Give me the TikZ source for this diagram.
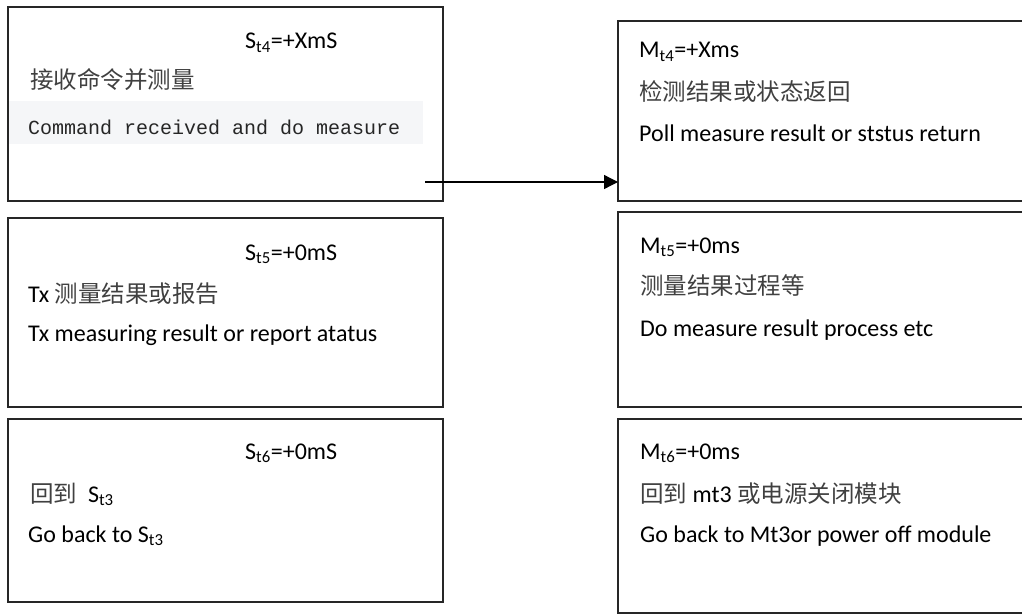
\documentclass[tikz,border=0pt]{standalone}
\usepackage{fontspec}
\setmainfont{Carlito}
\newfontfamily\cjk{Noto Sans CJK SC}
\newfontfamily\monofont{Liberation Mono}
\usetikzlibrary{arrows.meta}
\definecolor{cjkgray}{HTML}{404040}
\definecolor{bandgray}{HTML}{F5F6F8}
\newcommand{\zh}[1]{{\cjk\color{cjkgray}\fontsize{23.5}{28}\selectfont #1}}
\begin{document}
\begin{tikzpicture}[x=1pt,y=-1pt,
  box/.style={draw=black!85, line width=1.6pt, inner sep=0pt, outer sep=0pt, anchor=north west},
  txt/.style={anchor=base west, inner sep=0pt, font=\fontsize{24}{28}\selectfont},
  mono/.style={anchor=base west, inner sep=0pt, font=\monofont\fontsize{20}{24}\selectfont, text=black!85},
  arrow/.style={-{Triangle[length=14pt,width=14pt]}, line width=1.3pt}]
\useasboundingbox (0,0) rectangle (1022,615);
\clip (0,0) rectangle (1022,615);
% gray band behind the mono line
\fill[bandgray] (8,101) rectangle (423,144);
% left boxes
\node[box, minimum width=435pt, minimum height=194pt] (L1) at (8,7) {};
\node[box, minimum width=435pt, minimum height=189pt] (L2) at (8,218) {};
\node[box, minimum width=435pt, minimum height=183pt] (L3) at (8,419) {};
% right boxes
\node[box, minimum width=430pt, minimum height=180pt] (R1) at (618,21) {};
\node[box, minimum width=430pt, minimum height=195pt] (R2) at (618,212) {};
\node[box, minimum width=430pt, minimum height=194pt] (R3) at (618,419) {};
% left texts
\node[txt] (l1a) at (245,49) {S\textsubscript{t4}=+XmS};
\node[txt] (l1b) at (30,89) {\zh{接收命令并测量}};
\node[mono] (l1c) at (28,135) {Command received and do measure};
\node[txt] (l2a) at (245,260) {S\textsubscript{t5}=+0mS};
\node[txt] (l2b) at (28,302) {Tx \zh{测量结果或报告}};
\node[txt] (l2c) at (28,341) {Tx measuring result or report atatus};
\node[txt] (l3a) at (245,459) {S\textsubscript{t6}=+0mS};
\node[txt] (l3b) at (30,502) {\zh{回到}\ \ S\textsubscript{t3}};
\node[txt] (l3c) at (28,542) {Go back to S\textsubscript{t3}};
% right texts
\node[txt] (r1a) at (639,58) {M\textsubscript{t4}=+Xms};
\node[txt] (r1b) at (639,101) {\zh{检测结果或状态返回}};
\node[txt] (r1c) at (639,142) {Poll measure result or ststus return};
\node[txt] (r2a) at (640,253) {M\textsubscript{t5}=+0ms};
\node[txt] (r2b) at (640,294) {\zh{测量结果过程等}};
\node[txt] (r2c) at (640,336) {Do measure result process etc};
\node[txt] (r3a) at (640,459) {M\textsubscript{t6}=+0ms};
\node[txt] (r3b) at (640,502) {\zh{回到} mt3 \zh{或电源关闭模块}};
\node[txt] (r3c) at (640,542) {Go back to Mt3or power off module};
% arrow
\coordinate (a0) at (425,182);
\draw[arrow] (a0) -- (a0 -| R1.west);
\end{tikzpicture}
\end{document}
